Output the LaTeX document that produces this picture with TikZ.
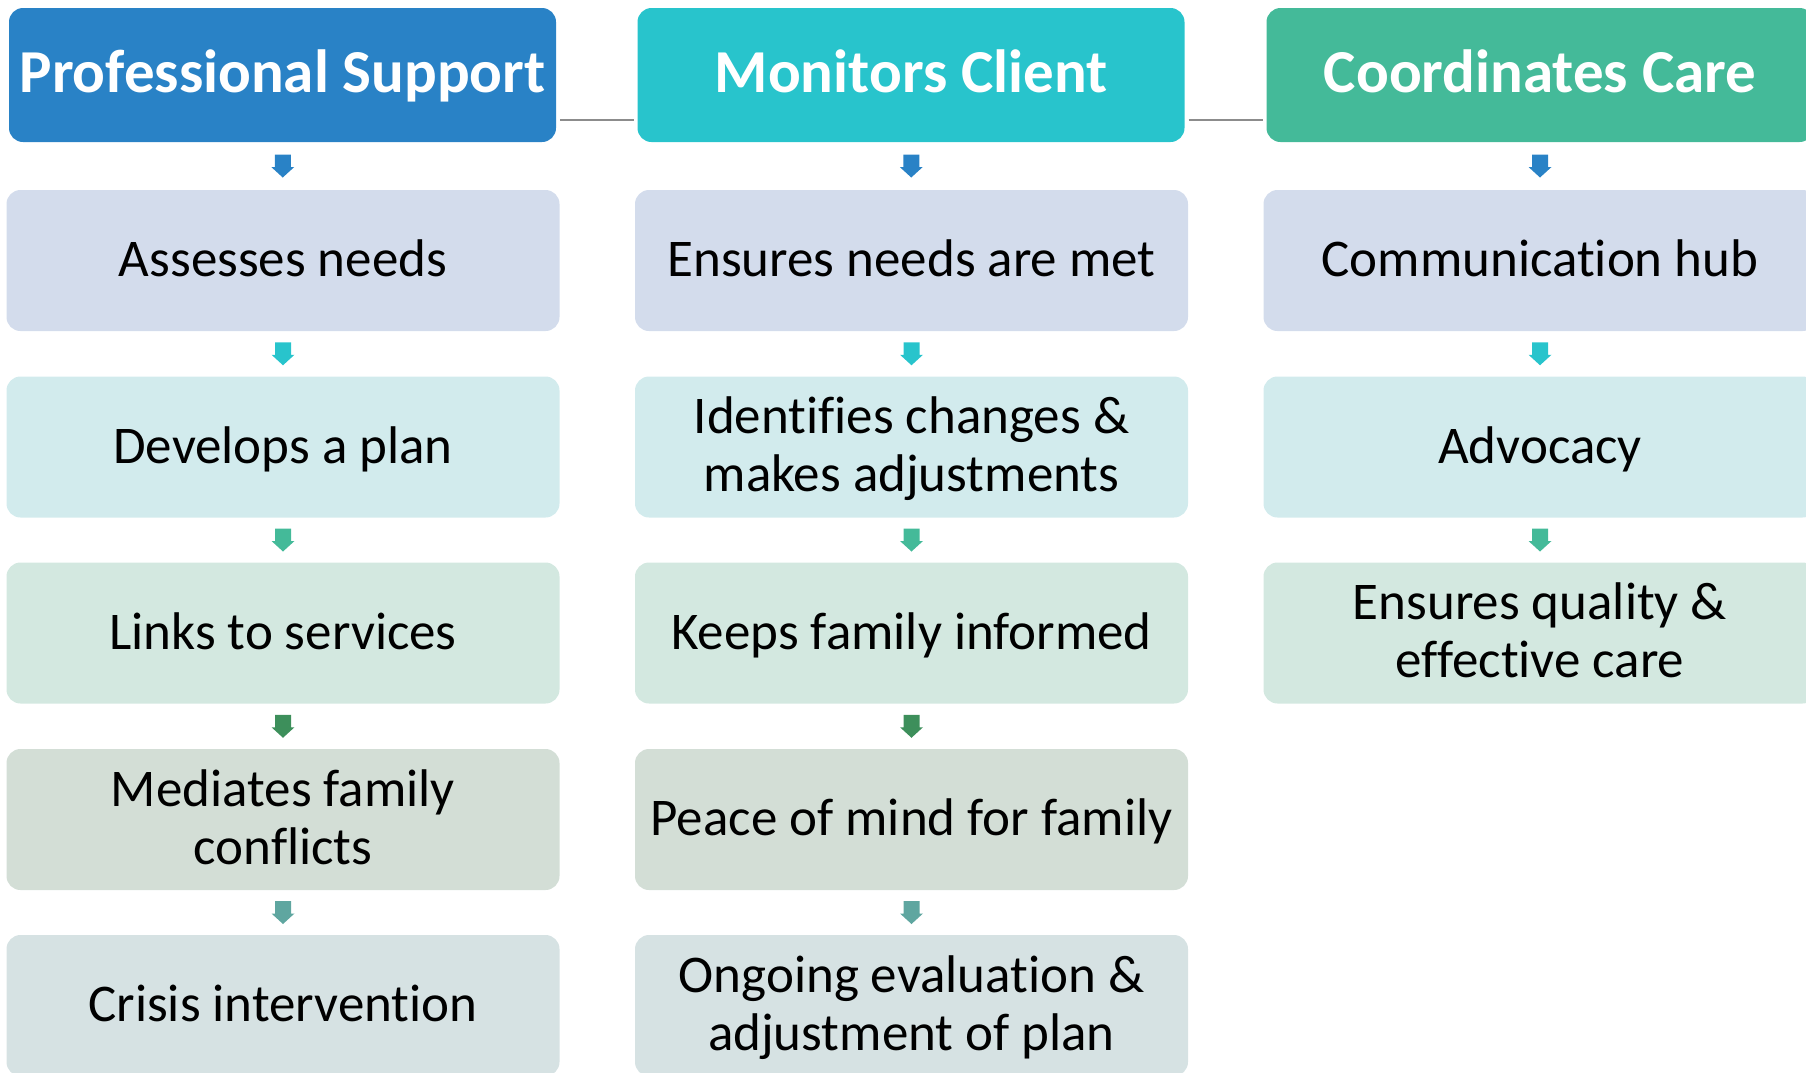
\documentclass[tikz,border=0pt]{standalone}
\usepackage{fontspec}
\setmainfont{Carlito}[Ligatures={TeX,NoCommon}]
\usetikzlibrary{calc}
\definecolor{hblue}{HTML}{2982C6}
\definecolor{hteal}{HTML}{28C4CC}
\definecolor{hgreen}{HTML}{44BA99}
\definecolor{rowa}{HTML}{D3DCEC}
\definecolor{rowb}{HTML}{D2EBED}
\definecolor{rowc}{HTML}{D3E8E0}
\definecolor{rowd}{HTML}{D3DED6}
\definecolor{rowe}{HTML}{D6E2E3}
\definecolor{adark}{HTML}{3D8F5B}
\definecolor{agreyteal}{HTML}{5FA6A0}
\definecolor{linegray}{HTML}{8C8C8C}
\newcommand{\darrow}[3]{%
  \fill[#3] ($(#1.south)!0.5!(#2.north)$) ++(-8,-11.5) -- ++(16,0) -- ++(0,12.5)
    -- ++(3.5,0) -- ++(-11.5,10.5) -- ++(-11.5,-10.5) -- ++(3.5,0) -- cycle;}
\begin{document}
\begin{tikzpicture}[x=1pt,y=-1pt,
  box/.style={rounded corners=14pt, inner sep=0pt, minimum width=553pt,
    minimum height=141pt, align=center, text depth=5pt, text=black,
    font=\fontsize{53}{58}\selectfont},
  one/.style={text height=37pt},
  head/.style={rounded corners=14pt, inner sep=0pt, minimum width=547pt,
    minimum height=134pt, text=white, text depth=7pt,
    font=\bfseries\fontsize{61}{70}\selectfont},
  conn/.style={draw=linegray, line width=2pt}]
\useasboundingbox (0,0) rectangle (1806,1072);
% headers
\node[head, fill=hblue]  (h1) at (282.5,75) {Professional Support};
\node[head, fill=hteal]  (h2) at (911,75)   {Monitors Client};
\node[head, fill=hgreen] (h3) at (1540,75)  {Coordinates Care};
% column 1
\node[box, one, fill=rowa] (a1) at (283,260.5) {Assesses needs};
\node[box, one, fill=rowb] (a2) at (283,447)   {Develops a plan};
\node[box, one, fill=rowc] (a3) at (283,633)   {Links to services};
\node[box, fill=rowd]      (a4) at (283,819.5) {Mediates family\\conflicts};
\node[box, one, fill=rowe] (a5) at (283,1005.5) {Crisis intervention};
% column 2
\node[box, one, fill=rowa] (b1) at (911.5,260.5) {Ensures needs are met};
\node[box, fill=rowb]      (b2) at (911.5,447)   {Identifies changes \&\\makes adjustments};
\node[box, one, fill=rowc] (b3) at (911.5,633)   {Keeps family informed};
\node[box, one, fill=rowd] (b4) at (911.5,819.5) {Peace of mind for family};
\node[box, fill=rowe]      (b5) at (911.5,1005.5) {Ongoing evaluation \&\\adjustment of plan};
% column 3
\node[box, one, fill=rowa] (c1) at (1540,260.5) {Communication hub};
\node[box, one, fill=rowb] (c2) at (1540,447)   {Advocacy};
\node[box, fill=rowc]      (c3) at (1540,633)   {Ensures quality \&\\effective care};
% connectors between headers
\draw[conn] ([xshift=4pt,yshift=22pt]h1.south east) -- ([xshift=-3pt,yshift=22pt]h2.south west);
\draw[conn] ([xshift=4pt,yshift=22pt]h2.south east) -- ([xshift=-3pt,yshift=22pt]h3.south west);
% arrows
\darrow{h1}{a1}{hblue}
\darrow{a1}{a2}{hteal}
\darrow{a2}{a3}{hgreen}
\darrow{a3}{a4}{adark}
\darrow{a4}{a5}{agreyteal}
\darrow{h2}{b1}{hblue}
\darrow{b1}{b2}{hteal}
\darrow{b2}{b3}{hgreen}
\darrow{b3}{b4}{adark}
\darrow{b4}{b5}{agreyteal}
\darrow{h3}{c1}{hblue}
\darrow{c1}{c2}{hteal}
\darrow{c2}{c3}{hgreen}
\end{tikzpicture}
\end{document}
